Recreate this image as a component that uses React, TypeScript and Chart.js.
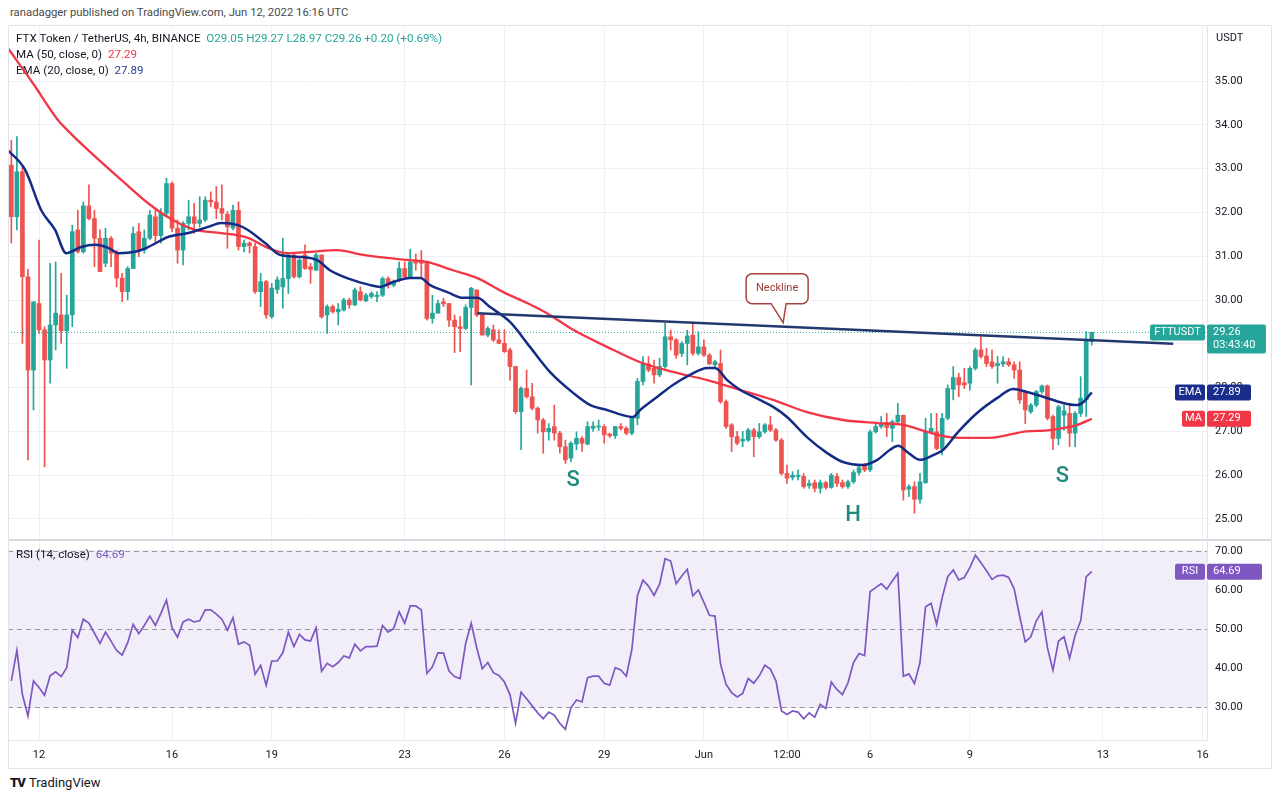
import React, { useEffect, useRef } from "react";
import { Chart, registerables } from "chart.js";

Chart.register(...registerables);

// ---------- DATA ----------
const opens = [
  33.08, 31.90, 32.93, 30.53, 28.40, 29.92, 29.32, 28.63, 29.43, 29.66,
  29.30, 29.66, 31.60, 31.10, 32.15, 31.86, 31.41, 30.84, 31.41, 31.07,
  30.50, 30.19, 30.72, 31.56, 31.14, 31.41, 31.90, 31.47, 31.98, 32.66,
  31.64, 31.14, 31.75, 31.90, 31.75, 31.83, 32.28, 32.24, 32.09, 31.96,
  31.64, 32.05, 31.22, 31.30, 31.22, 30.19, 30.42, 29.62, 30.24, 30.30,
  30.49, 31.03, 30.53, 31.03, 30.76, 30.68, 31.03, 29.66, 29.85, 29.73,
  29.77, 30.00, 29.89, 30.19, 29.98, 30.08, 30.08, 30.11, 30.49, 30.34,
  30.46, 30.72, 30.53, 30.91, 30.90, 30.87, 29.58, 29.70, 29.96, 29.92,
  29.54, 29.39, 29.35, 29.83, 30.23, 29.66, 29.20, 29.32, 29.09, 29.01,
  28.86, 28.48, 27.45, 27.98, 27.79, 27.53, 27.26, 26.99, 27.11, 26.96,
  26.65, 26.39, 26.71, 26.84, 26.71, 27.07, 27.10, 27.11, 26.94, 26.90,
  27.11, 27.07, 26.96, 27.30, 28.14, 28.54, 28.44, 28.29, 28.48, 29.16,
  29.09, 28.78, 29.01, 29.20, 28.78, 28.93, 28.74, 28.52, 28.55, 27.68,
  27.15, 26.88, 26.78, 26.80, 27.03, 26.88, 26.99, 27.15, 27.03, 26.80,
  26.04, 25.95, 25.97, 25.97, 25.76, 25.83, 25.70, 25.83, 25.72, 25.97,
  25.83, 25.74, 25.85, 26.06, 26.25, 26.12, 26.99, 27.11, 27.20, 27.07,
  27.22, 27.37, 25.68, 25.74, 25.45, 25.83, 26.97, 26.99, 26.61, 27.30,
  27.96, 28.23, 28.11, 28.10, 28.44, 28.86, 28.72, 28.59, 28.50, 28.54,
  28.59, 28.52, 28.40, 27.91, 27.45, 27.60, 27.91, 28.04, 27.34, 26.84,
  27.37, 27.41, 26.96, 27.41, 27.72, 29.05,
];
const highs = [
  33.65, 33.73, 33.04, 30.70, 29.96, 31.37, 29.39, 30.84, 30.87, 30.61,
  30.11, 31.71, 32.05, 32.24, 32.63, 32.05, 31.60, 31.64, 31.45, 31.14,
  30.61, 30.76, 31.67, 31.75, 31.60, 32.05, 32.05, 32.09, 32.78, 32.70,
  31.83, 31.79, 32.28, 32.21, 32.36, 32.36, 32.47, 32.59, 32.63, 32.02,
  32.17, 32.24, 31.37, 31.33, 31.30, 30.61, 30.45, 30.38, 30.53, 31.41,
  31.07, 31.05, 30.95, 31.26, 30.84, 31.07, 31.03, 29.89, 29.89, 29.92,
  30.04, 30.04, 30.27, 30.30, 30.15, 30.19, 30.19, 30.53, 30.53, 30.46,
  30.87, 30.87, 31.16, 31.05, 31.13, 30.87, 30.11, 30.00, 30.04, 29.92,
  29.66, 29.62, 29.89, 30.29, 30.23, 29.70, 29.39, 29.43, 29.32, 29.32,
  28.90, 28.49, 28.02, 28.40, 28.10, 27.56, 27.30, 27.18, 27.60, 27.00,
  26.80, 26.77, 26.99, 26.88, 27.22, 27.22, 27.26, 27.15, 26.96, 27.12,
  27.18, 27.11, 27.34, 28.21, 28.71, 28.71, 28.63, 28.67, 29.47, 29.31,
  29.12, 29.05, 29.31, 29.50, 29.28, 29.09, 28.78, 28.63, 28.86, 27.72,
  27.18, 27.00, 27.00, 27.07, 27.07, 27.18, 27.18, 27.34, 27.07, 26.84,
  26.23, 26.08, 26.12, 26.04, 25.89, 25.89, 25.89, 25.86, 26.04, 26.04,
  25.89, 25.89, 26.12, 26.23, 26.27, 27.03, 27.18, 27.34, 27.41, 27.26,
  27.64, 27.37, 25.78, 25.85, 26.04, 27.30, 27.41, 27.41, 27.41, 28.06,
  28.48, 28.33, 28.44, 28.48, 28.90, 29.16, 28.90, 28.86, 28.71, 28.71,
  28.67, 28.59, 28.59, 27.94, 27.64, 27.94, 28.06, 28.06, 27.37, 27.60,
  27.60, 27.60, 27.45, 28.25, 29.28, 29.27,
];
const lows = [
  31.30, 31.60, 29.01, 26.35, 27.49, 29.24, 26.19, 28.10, 28.86, 29.01,
  28.44, 29.39, 31.07, 31.07, 31.83, 30.76, 30.65, 30.76, 30.76, 30.30,
  29.96, 30.00, 30.72, 30.99, 31.07, 31.37, 31.30, 31.30, 31.90, 31.56,
  30.84, 30.80, 31.60, 31.52, 31.67, 31.79, 32.13, 31.86, 31.83, 31.18,
  31.60, 31.14, 31.10, 31.07, 30.15, 29.85, 29.58, 29.58, 30.15, 29.81,
  30.15, 30.50, 30.50, 30.70, 30.38, 30.68, 29.58, 29.24, 29.70, 29.43,
  29.75, 29.81, 29.87, 29.98, 29.96, 30.04, 29.96, 30.08, 30.27, 30.30,
  30.42, 30.49, 30.49, 30.68, 30.53, 29.54, 29.47, 29.70, 29.85, 29.39,
  28.80, 28.82, 29.32, 28.06, 29.62, 29.20, 29.16, 29.05, 29.01, 28.80,
  28.17, 27.41, 26.58, 27.76, 27.49, 26.96, 26.50, 26.80, 26.80, 26.50,
  26.27, 26.31, 26.58, 26.54, 26.69, 27.00, 27.02, 26.73, 26.86, 26.84,
  27.03, 26.92, 26.92, 27.15, 28.06, 28.36, 28.10, 28.25, 28.44, 28.86,
  28.67, 28.71, 28.52, 28.74, 28.74, 28.71, 28.52, 28.48, 27.64, 27.07,
  26.54, 26.69, 26.65, 26.77, 26.42, 26.84, 26.96, 26.99, 26.77, 26.00,
  25.81, 25.89, 25.89, 25.70, 25.70, 25.62, 25.59, 25.68, 25.70, 25.74,
  25.70, 25.70, 25.81, 26.00, 26.08, 26.08, 26.96, 27.07, 26.88, 26.77,
  27.18, 25.43, 25.51, 25.13, 25.36, 25.81, 26.96, 26.58, 26.46, 27.26,
  27.72, 27.79, 27.98, 27.94, 28.40, 28.67, 28.48, 28.44, 28.10, 28.48,
  28.48, 28.21, 27.64, 27.18, 27.41, 27.56, 27.87, 27.26, 26.58, 26.69,
  27.03, 26.65, 26.65, 27.34, 27.34, 28.97,
];
const closes = [
  31.90, 32.93, 30.53, 28.40, 29.96, 29.32, 28.63, 29.43, 29.70, 29.30,
  29.66, 31.56, 31.10, 32.15, 31.86, 31.41, 30.65, 31.41, 31.07, 30.50,
  30.19, 30.72, 31.52, 31.14, 31.41, 31.94, 31.47, 31.98, 32.66, 31.64,
  31.14, 31.75, 31.90, 31.75, 31.83, 32.28, 32.24, 32.09, 31.98, 31.67,
  32.05, 31.22, 31.30, 31.24, 30.19, 30.42, 29.66, 30.27, 30.46, 30.49,
  31.03, 30.53, 30.91, 30.72, 30.70, 31.03, 29.62, 29.85, 29.73, 29.79,
  30.00, 29.89, 30.23, 30.00, 30.11, 30.15, 30.11, 30.49, 30.34, 30.42,
  30.72, 30.53, 30.87, 30.84, 30.84, 29.58, 29.70, 29.92, 29.91, 29.54,
  29.39, 29.35, 29.83, 30.27, 29.66, 29.20, 29.35, 29.09, 29.01, 28.82,
  28.48, 27.45, 27.98, 27.79, 27.53, 27.26, 26.99, 27.07, 26.96, 26.65,
  26.35, 26.73, 26.84, 26.73, 27.11, 27.12, 27.11, 26.92, 26.90, 27.11,
  27.07, 26.96, 27.30, 28.14, 28.54, 28.40, 28.29, 28.48, 29.16, 29.09,
  28.74, 29.01, 29.18, 28.78, 28.93, 28.74, 28.54, 28.59, 27.68, 27.11,
  26.88, 26.73, 26.82, 27.03, 26.88, 26.99, 27.15, 27.03, 26.80, 26.04,
  25.93, 26.00, 26.00, 25.74, 25.81, 25.70, 25.83, 25.72, 26.00, 25.81,
  25.74, 25.85, 26.06, 26.17, 26.12, 26.99, 27.11, 27.18, 27.09, 27.22,
  27.37, 25.66, 25.74, 25.45, 25.85, 26.99, 27.07, 26.61, 27.30, 27.98,
  28.23, 28.06, 28.06, 28.44, 28.86, 28.71, 28.55, 28.48, 28.55, 28.59,
  28.52, 28.40, 27.72, 27.49, 27.60, 27.91, 28.04, 27.30, 26.84, 27.56,
  27.47, 26.96, 27.41, 27.76, 29.09, 29.26,
];

// MA(50): candle position / value
const maIdx = [-0.6, 3.9, 8.4, 10.1, 14.4, 20.5, 24.7, 28.3, 33.2, 37.9, 42.7, 46.3, 49.8, 53.9, 58.8, 63.5, 67.8, 72.0, 75.0, 79.7, 84.1, 88.8, 93.1, 97.2, 101.4, 107.5, 113.5, 119.4, 125.6, 131.5, 137.5, 143.6, 150.1, 156.3, 161.0, 165.3, 169.4, 174.3, 177.9, 182.6, 187.5, 192.4, 195];
const maVal = [35.75, 34.95, 34.11, 33.88, 33.36, 32.67, 32.21, 31.89, 31.60, 31.53, 31.42, 31.19, 31.07, 31.10, 31.14, 31.03, 30.96, 30.91, 30.87, 30.68, 30.50, 30.18, 29.93, 29.66, 29.32, 28.93, 28.58, 28.36, 28.17, 27.95, 27.72, 27.44, 27.26, 27.19, 27.15, 26.99, 26.87, 26.85, 26.87, 26.99, 27.03, 27.15, 27.29];

// EMA(20)
const emaIdx = [-0.6, 2.5, 5.4, 7.9, 9.9, 12.6, 15.1, 17.5, 19.3, 22.3, 24.7, 28.3, 31.9, 35.5, 37.9, 40.9, 42.7, 45.8, 48.5, 52.7, 55.2, 57.5, 60.6, 64.8, 66.6, 68.9, 72.0, 73.8, 75.6, 78.7, 81.5, 84.1, 86.4, 90.0, 93.6, 97.2, 101.4, 104.5, 107.5, 110.4, 112.2, 113.5, 116.6, 119.4, 122.5, 125.6, 127.0, 129.2, 131.5, 135.1, 137.5, 140.0, 143.6, 147.2, 150.1, 153.7, 156.3, 158.6, 160.1, 161.7, 164.0, 166.4, 168.2, 170.7, 174.3, 177.9, 180.8, 183.3, 186.2, 189.8, 192.4, 193.5, 195];
const emaVal = [33.42, 32.97, 32.05, 31.60, 31.07, 31.21, 31.26, 31.19, 31.07, 31.10, 31.21, 31.44, 31.53, 31.67, 31.76, 31.71, 31.60, 31.30, 31.03, 30.98, 30.91, 30.68, 30.50, 30.34, 30.30, 30.41, 30.50, 30.50, 30.34, 30.18, 30.05, 30.05, 29.84, 29.50, 28.93, 28.36, 27.88, 27.60, 27.49, 27.37, 27.33, 27.49, 27.79, 28.06, 28.29, 28.45, 28.45, 28.17, 27.95, 27.72, 27.56, 27.33, 26.87, 26.51, 26.30, 26.23, 26.35, 26.58, 26.67, 26.53, 26.35, 26.46, 26.58, 26.96, 27.42, 27.76, 27.97, 27.90, 27.79, 27.65, 27.60, 27.67, 27.89];

// RSI(14) per candle
const rsiVals = [
  36.7, 44.5, 33.2, 27.7, 36.7, 35.0, 33.0, 38.0, 39.0, 37.8,
  40.1, 49.7, 47.8, 52.5, 51.5, 48.9, 46.3, 49.2, 46.9, 44.5,
  43.3, 46.5, 51.2, 48.8, 50.9, 53.3, 50.9, 54.0, 57.4, 50.3,
  47.9, 51.8, 52.5, 51.8, 52.1, 54.9, 54.9, 53.8, 52.5, 49.7,
  52.9, 46.1, 46.7, 45.8, 38.4, 40.7, 35.6, 41.8, 41.8, 43.9,
  49.2, 45.5, 48.6, 47.2, 46.9, 50.3, 39.2, 41.2, 40.3, 41.4,
  43.1, 42.6, 46.1, 44.4, 45.5, 45.5, 45.6, 50.9, 49.2, 50.1,
  54.4, 51.5, 55.9, 55.9, 54.9, 38.6, 40.3, 43.9, 43.8, 39.2,
  37.8, 37.3, 46.3, 51.5, 45.2, 39.8, 41.4, 38.8, 38.1, 36.4,
  33.2, 25.8, 33.8, 32.1, 30.3, 28.5, 27.0, 28.7, 27.9, 25.8,
  24.3, 29.8, 31.8, 31.3, 37.5, 37.9, 37.9, 36.1, 35.6, 40.1,
  39.5, 37.9, 44.8, 58.5, 62.5, 61.0, 58.6, 61.5, 68.0, 67.4,
  61.6, 63.6, 65.3, 58.5, 60.0, 56.8, 53.5, 53.3, 41.0, 35.8,
  33.7, 32.6, 33.5, 37.3, 36.1, 38.0, 40.7, 39.7, 36.7, 29.0,
  28.1, 29.0, 28.7, 27.0, 28.5, 27.4, 30.7, 29.6, 36.4, 34.5,
  33.2, 36.2, 41.4, 43.7, 43.2, 59.6, 60.6, 61.6, 60.2, 62.3,
  64.3, 37.9, 38.5, 36.0, 41.4, 55.7, 56.6, 51.2, 58.0, 63.4,
  65.1, 62.6, 63.2, 65.7, 68.9, 67.0, 64.9, 62.7, 63.6, 63.8,
  63.2, 60.3, 53.2, 46.7, 48.0, 52.1, 54.4, 45.2, 39.4, 46.9,
  48.0, 42.5, 48.4, 52.1, 63.4, 64.69,
];

const necklineIdx = [84.1, 209.7];
const necklineVal = [29.70, 29.0];

const dayTickIdx = [5, 29, 47, 71, 89, 107, 125, 140, 155, 173, 197, 215];
const dayTickLabels = ["12", "16", "19", "23", "26", "29", "Jun", "12:00", "6", "9", "13", "16"];
const priceTicks = [25, 26, 27, 28, 29, 30, 31, 32, 33, 34, 35];
const rsiTicks = [30, 40, 50, 60, 70];

const patternText = ["S", "H", "S"];
const patternIdx = [101.4, 151.9, 189.7];
const patternVal = [25.87, 25.07, 25.98];

const lastPrice = 29.26;
const maLast = 27.29;
const emaLast = 27.89;
const rsiLast = 64.69;
const ohlcText = "O29.05 H29.27 L28.97 C29.26 +0.20 (+0.69%)";

// ---------- STYLE ----------
const X_MIN = -0.6;
const X_MAX = 215.8;
const FONT = "Roboto, 'Liberation Sans', Arial, sans-serif";
const UP = "#26a69a";
const DOWN = "#ef5350";
const MA_COLOR = "#f23645";
const EMA_COLOR = "#142c86";
const NECK_COLOR = "#22386f";
const RSI_COLOR = "#7e57c2";
const GRID = "#eef0f5";
const TEXT = "#131722";
const AXIS_LINE = "#e0e3eb";

function segs(ctx: any, x: number, y: number, parts: [string, string][]) {
  let cx = x;
  for (const [t, c] of parts) {
    ctx.fillStyle = c;
    ctx.fillText(t, cx, y);
    cx += ctx.measureText(t).width;
  }
}

function tag(ctx: any, x: number, y: number, w: number, h: number, bg: string, lines: string[], center: boolean) {
  ctx.fillStyle = bg;
  ctx.beginPath();
  (ctx as any).roundRect ? ctx.roundRect(x, y, w, h, 2) : ctx.rect(x, y, w, h);
  ctx.fill();
  ctx.fillStyle = "#ffffff";
  ctx.textBaseline = "middle";
  ctx.textAlign = center ? "center" : "left";
  lines.forEach((t, k) => ctx.fillText(t, center ? x + w / 2 : x + 6, y + 8 + k * 13));
}

const fixY = (w: number) => (s: any) => {
  s.width = w;
  s.paddingTop = 0; s.paddingBottom = 0; s.paddingLeft = 0; s.paddingRight = 0;
};
const fixX = (h: number) => (s: any) => {
  s.height = h;
  s.paddingTop = 0; s.paddingBottom = 0; s.paddingLeft = 0; s.paddingRight = 0;
};

export default function App() {
  const priceRef = useRef<HTMLCanvasElement>(null);
  const rsiRef = useRef<HTMLCanvasElement>(null);

  useEffect(() => {
    const colors = closes.map((c, i) => (c >= opens[i] ? UP : DOWN));
    const bodies = opens.map((o, i) => ({ x: i, y: [o, closes[i]] }));
    const wicks = lows.map((l, i) => ({ x: i, y: [l, highs[i]] }));
    const ma = maIdx.map((x, k) => ({ x, y: maVal[k] }));
    const ema = emaIdx.map((x, k) => ({ x, y: emaVal[k] }));
    const neck = necklineIdx.map((x, k) => ({ x, y: necklineVal[k] }));
    const lastLine = [{ x: X_MIN, y: lastPrice }, { x: X_MAX, y: lastPrice }];

    const pricePlugin = {
      id: "priceDecor",
      beforeDatasetsDraw(chart: any) {
        const ctx = chart.ctx;
        ctx.save();
        ctx.font = `11.6px ${FONT}`;
        ctx.textBaseline = "middle";
        ctx.textAlign = "left";
        segs(ctx, 8, 14, [["FTX Token / TetherUS, 4h, BINANCE  ", TEXT], [ohlcText, UP]]);
        segs(ctx, 8, 30, [["MA (50, close, 0)  ", TEXT], [maLast.toFixed(2), MA_COLOR]]);
        segs(ctx, 8, 46, [["EMA (20, close, 0)  ", TEXT], [emaLast.toFixed(2), "#2b3c93"]]);
        ctx.restore();
      },
      afterDatasetsDraw(chart: any) {
        const ctx = chart.ctx;
        const xs = chart.scales.x;
        const ys = chart.scales.y;
        ctx.save();
        ctx.font = `500 22px ${FONT}`;
        ctx.fillStyle = "#1f8a7d";
        ctx.textAlign = "center";
        ctx.textBaseline = "middle";
        patternText.forEach((t, k) => {
          ctx.fillText(t, xs.getPixelForValue(patternIdx[k]), ys.getPixelForValue(patternVal[k]));
        });
        const ti = 139.3;
        const tv = necklineVal[0] + ((ti - necklineIdx[0]) / (necklineIdx[1] - necklineIdx[0])) * (necklineVal[1] - necklineVal[0]);
        const tx = xs.getPixelForValue(ti);
        const ty = ys.getPixelForValue(tv) - 4;
        const left = tx - 37, right = tx + 25, top = ty - 49, bottom = ty - 19, r = 6;
        ctx.beginPath();
        ctx.moveTo(left + r, top);
        ctx.lineTo(right - r, top);
        ctx.arcTo(right, top, right, top + r, r);
        ctx.lineTo(right, bottom - r);
        ctx.arcTo(right, bottom, right - r, bottom, r);
        ctx.lineTo(tx + 3, bottom);
        ctx.lineTo(tx, ty);
        ctx.lineTo(tx - 12, bottom);
        ctx.lineTo(left + r, bottom);
        ctx.arcTo(left, bottom, left, bottom - r, r);
        ctx.lineTo(left, top + r);
        ctx.arcTo(left, top, left + r, top, r);
        ctx.closePath();
        ctx.fillStyle = "#ffffff";
        ctx.fill();
        ctx.strokeStyle = "#a9443f";
        ctx.lineWidth = 1.5;
        ctx.stroke();
        ctx.font = `11px ${FONT}`;
        ctx.fillStyle = "#9a3b38";
        ctx.fillText("Neckline", (left + right) / 2, (top + bottom) / 2);
        ctx.restore();
      },
      afterDraw(chart: any) {
        const ctx = chart.ctx;
        const ys = chart.scales.y;
        ctx.save();
        ctx.font = `11px ${FONT}`;
        ctx.fillStyle = TEXT;
        ctx.textAlign = "left";
        ctx.textBaseline = "middle";
        ctx.fillText("USDT", 1208, 13);
        const pL = ys.getPixelForValue(lastPrice);
        tag(ctx, 1142, pL - 8, 55, 16, UP, ["FTTUSDT"], true);
        tag(ctx, 1199, pL - 8, 59, 29, UP, [lastPrice.toFixed(2), "03:43:40"], false);
        const pE = ys.getPixelForValue(emaLast);
        tag(ctx, 1167, pE - 8, 30, 16, "#1b2d8c", ["EMA"], true);
        tag(ctx, 1199, pE - 8, 44, 16, "#1b2d8c", [emaLast.toFixed(2)], false);
        const pM = ys.getPixelForValue(maLast);
        tag(ctx, 1174, pM - 8, 23, 16, MA_COLOR, ["MA"], true);
        tag(ctx, 1199, pM - 8, 44, 16, MA_COLOR, [maLast.toFixed(2)], false);
        ctx.restore();
      },
    };

    const priceChart = new Chart(priceRef.current as HTMLCanvasElement, {
      type: "bar",
      data: {
        datasets: [
          { type: "line", data: neck, borderColor: NECK_COLOR, borderWidth: 2.5, pointRadius: 0, order: 0 } as any,
          { type: "line", data: ema, borderColor: EMA_COLOR, borderWidth: 2.5, pointRadius: 0, cubicInterpolationMode: "monotone", order: 1 } as any,
          { type: "line", data: ma, borderColor: MA_COLOR, borderWidth: 2.3, pointRadius: 0, cubicInterpolationMode: "monotone", order: 2 } as any,
          { type: "line", data: lastLine, borderColor: UP, borderWidth: 1, borderDash: [1, 2], pointRadius: 0, order: 3 } as any,
          { type: "bar", data: bodies, backgroundColor: colors, barThickness: 4, grouped: false, minBarLength: 1, borderWidth: 0, order: 4 } as any,
          { type: "bar", data: wicks, backgroundColor: colors, barThickness: 1, grouped: false, borderWidth: 0, order: 5 } as any,
        ],
      },
      options: {
        animation: false,
        responsive: false,
        maintainAspectRatio: false,
        devicePixelRatio: 1,
        events: [],
        layout: { padding: 0, autoPadding: false } as any,
        plugins: { legend: { display: false }, tooltip: { enabled: false } },
        scales: {
          x: {
            type: "linear",
            min: X_MIN,
            max: X_MAX,
            offset: false,
            grid: { color: GRID, drawTicks: false, offset: false },
            border: { display: false },
            ticks: { display: false },
            afterBuildTicks: (s: any) => { s.ticks = dayTickIdx.map((v) => ({ value: v })); },
            afterFit: fixX(0),
          } as any,
          y: {
            type: "linear",
            position: "right",
            min: 24.52,
            max: 36.28,
            grid: { color: GRID, drawTicks: false },
            border: { display: true, color: AXIS_LINE },
            ticks: {
              padding: 8,
              color: TEXT,
              font: { family: FONT, size: 11 },
              callback: (v: any) => Number(v).toFixed(2),
            },
            afterBuildTicks: (s: any) => { s.ticks = priceTicks.map((v) => ({ value: v })); },
            afterFit: fixY(65),
          } as any,
        },
      } as any,
      plugins: [pricePlugin],
    });

    const rsiPlugin = {
      id: "rsiDecor",
      beforeDraw(chart: any) {
        const ctx = chart.ctx;
        const ys = chart.scales.y;
        const a = chart.chartArea;
        ctx.save();
        ctx.fillStyle = "rgba(126, 87, 194, 0.1)";
        const y70 = ys.getPixelForValue(70);
        const y30 = ys.getPixelForValue(30);
        ctx.fillRect(a.left, y70, a.right - a.left, y30 - y70);
        ctx.restore();
      },
      beforeDatasetsDraw(chart: any) {
        const ctx = chart.ctx;
        const ys = chart.scales.y;
        const a = chart.chartArea;
        ctx.save();
        ctx.strokeStyle = "#9598a1";
        ctx.lineWidth = 1;
        ctx.setLineDash([5, 4]);
        [30, 50, 70].forEach((v) => {
          const y = Math.round(ys.getPixelForValue(v)) + 0.5;
          ctx.beginPath();
          ctx.moveTo(a.left, y);
          ctx.lineTo(a.right, y);
          ctx.stroke();
        });
        ctx.setLineDash([]);
        ctx.font = `11.6px ${FONT}`;
        ctx.textBaseline = "middle";
        ctx.textAlign = "left";
        segs(ctx, 8, 15, [["RSI (14, close)  ", TEXT], [rsiLast.toFixed(2), RSI_COLOR]]);
        ctx.restore();
      },
      afterDraw(chart: any) {
        const ctx = chart.ctx;
        const ys = chart.scales.y;
        ctx.save();
        ctx.font = `11px ${FONT}`;
        const pR = ys.getPixelForValue(rsiLast);
        tag(ctx, 1167, pR - 8, 30, 16, RSI_COLOR, ["RSI"], true);
        tag(ctx, 1199, pR - 8, 55, 16, RSI_COLOR, [rsiLast.toFixed(2)], false);
        ctx.restore();
      },
    };

    const rsiChart = new Chart(rsiRef.current as HTMLCanvasElement, {
      type: "line",
      data: {
        datasets: [
          {
            data: rsiVals.map((v, i) => ({ x: i, y: v })),
            borderColor: RSI_COLOR,
            borderWidth: 1.7,
            pointRadius: 0,
            tension: 0,
          },
        ],
      },
      options: {
        animation: false,
        responsive: false,
        maintainAspectRatio: false,
        devicePixelRatio: 1,
        events: [],
        layout: { padding: 0, autoPadding: false } as any,
        plugins: { legend: { display: false }, tooltip: { enabled: false } },
        scales: {
          x: {
            type: "linear",
            min: X_MIN,
            max: X_MAX,
            grid: { color: GRID, drawTicks: false },
            border: { display: true, color: AXIS_LINE },
            ticks: {
              padding: 9,
              color: TEXT,
              autoSkip: false,
              maxRotation: 0,
              font: { family: FONT, size: 11 },
              callback: (_v: any, index: number) => dayTickLabels[index] ?? "",
            },
            afterBuildTicks: (s: any) => { s.ticks = dayTickIdx.map((v) => ({ value: v })); },
            afterFit: fixX(28),
          } as any,
          y: {
            type: "linear",
            position: "right",
            min: 21.55,
            max: 72.8,
            grid: { color: GRID, drawTicks: false },
            border: { display: true, color: AXIS_LINE },
            ticks: {
              padding: 8,
              color: TEXT,
              font: { family: FONT, size: 11 },
              callback: (v: any) => Number(v).toFixed(2),
            },
            afterBuildTicks: (s: any) => { s.ticks = rsiTicks.map((v) => ({ value: v })); },
            afterFit: fixY(65),
          } as any,
        },
      } as any,
      plugins: [rsiPlugin],
    });

    return () => {
      priceChart.destroy();
      rsiChart.destroy();
    };
  }, []);

  return (
    <div style={{ position: "absolute", left: 0, top: 0, width: 1280, height: 800, background: "#ffffff", overflow: "hidden", fontFamily: FONT }}>
      <div style={{ position: "absolute", left: 10, top: 6, fontSize: 11.3, color: "#4a4a4a", whiteSpace: "nowrap" }}>
        ranadagger published on TradingView.com, Jun 12, 2022 16:16 UTC
      </div>
      <canvas ref={priceRef} width={1264} height={515} style={{ position: "absolute", left: 8, top: 25, width: 1264, height: 515 }} />
      <canvas ref={rsiRef} width={1264} height={228} style={{ position: "absolute", left: 8, top: 540, width: 1264, height: 228 }} />
      <div style={{ position: "absolute", left: 8, top: 539, width: 1264, height: 2, background: "#d6d9e0" }} />
      <div style={{ position: "absolute", left: 8, top: 25, width: 1264, height: 744, border: `1px solid ${AXIS_LINE}`, boxSizing: "border-box", pointerEvents: "none" }} />
      <div style={{ position: "absolute", left: 10, top: 775, fontSize: 13, color: TEXT, whiteSpace: "nowrap", display: "flex", alignItems: "center" }}>
        <span style={{ fontWeight: 900, fontSize: 13, letterSpacing: -1, marginRight: 4 }}>TV</span>
        <span>TradingView</span>
      </div>
    </div>
  );
}
